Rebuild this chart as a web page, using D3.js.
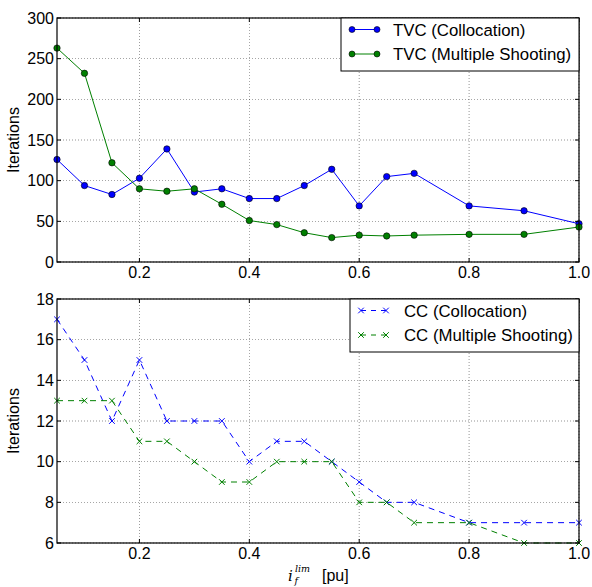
<!DOCTYPE html>
<html>
<head>
<meta charset="utf-8">
<script src="https://cdn.jsdelivr.net/npm/d3@7"></script>
<style>
  html, body { margin: 0; padding: 0; background: #fff; }
  svg { display: block; font-family: "Liberation Sans", Arial, sans-serif; }
</style>
</head>
<body>
<svg id="chart" width="592" height="587"></svg>
<script>
// Current limit values (pu)
const ifLim = [0.05, 0.1, 0.15, 0.2, 0.25, 0.3, 0.35, 0.4, 0.45, 0.5, 0.55, 0.6, 0.65, 0.7, 0.8, 0.9, 1.0];

// Iteration counts, TVC
const tvcCollocation = [126, 94, 83, 103, 139, 86, 90, 78, 78, 94, 114, 69, 105, 109, 69, 63, 47];
const tvcMultipleShooting = [263, 232, 122, 90, 87, 90, 71, 51, 46, 36, 30, 33, 32, 33, 34, 34, 43];

// Iteration counts, CC
const ccCollocation = [17, 15, 12, 15, 12, 12, 12, 10, 11, 11, 10, 9, 8, 8, 7, 7, 7];
const ccMultipleShooting = [13, 13, 13, 11, 11, 10, 9, 9, 10, 10, 10, 8, 8, 7, 7, 6, 6];

const xTicks = [0.2, 0.4, 0.6, 0.8, 1.0];
const yTicksTop = [0, 50, 100, 150, 200, 250, 300];
const yTicksBottom = [6, 8, 10, 12, 14, 16, 18];

const svg = d3.select("#chart");
const left = 57, right = 579;
const BLUE = "#0000ff", GREEN = "#008000";
const FS = 16;

const x = d3.scaleLinear().domain([0.05, 1.0]).range([left, right]);

function panel(top, bottom, yDomain, yTicks, series, legend) {
  const y = d3.scaleLinear().domain(yDomain).range([bottom, top]);
  const g = svg.append("g");

  // grid
  g.selectAll(".gx").data(xTicks).join("line")
    .attr("x1", d => x(d)).attr("x2", d => x(d))
    .attr("y1", top).attr("y2", bottom)
    .attr("stroke", "#000").attr("stroke-width", 0.6)
    .attr("stroke-dasharray", "1,2").attr("opacity", 0.7);
  g.selectAll(".gy").data(yTicks).join("line")
    .attr("x1", left).attr("x2", right)
    .attr("y1", d => y(d)).attr("y2", d => y(d))
    .attr("stroke", "#000").attr("stroke-width", 0.6)
    .attr("stroke-dasharray", "1,2").attr("opacity", 0.7);

  const clip = "clip" + top;
  svg.append("clipPath").attr("id", clip).append("rect")
    .attr("x", left - 6).attr("y", top - 6)
    .attr("width", right - left + 12).attr("height", bottom - top + 12);

  const plot = g.append("g").attr("clip-path", `url(#${clip})`);
  series.forEach(s => {
    const pts = ifLim.map((v, i) => [v, s.values[i]]);
    plot.append("path").datum(pts)
      .attr("fill", "none").attr("stroke", s.color).attr("stroke-width", 1)
      .attr("stroke-dasharray", s.dash ? "6,5" : null)
      .attr("d", d3.line().x(d => x(d[0])).y(d => y(d[1])));
    if (s.marker === "o") {
      plot.selectAll(null).data(pts).join("circle")
        .attr("cx", d => x(d[0])).attr("cy", d => y(d[1])).attr("r", 3.2)
        .attr("fill", s.color).attr("stroke", "#000").attr("stroke-width", 0.6);
    } else {
      plot.selectAll(null).data(pts).join("path")
        .attr("transform", d => `translate(${x(d[0])},${y(d[1])})`)
        .attr("d", "M-2.8,-2.8L2.8,2.8M-2.8,2.8L2.8,-2.8")
        .attr("stroke", s.color).attr("stroke-width", 1);
    }
  });

  // frame
  g.append("rect").attr("x", left).attr("y", top)
    .attr("width", right - left).attr("height", bottom - top)
    .attr("fill", "none").attr("stroke", "#000").attr("stroke-width", 1.2);

  // inward ticks on all four sides
  const tl = 4;
  xTicks.forEach(t => {
    g.append("line").attr("x1", x(t)).attr("x2", x(t)).attr("y1", bottom).attr("y2", bottom - tl).attr("stroke", "#000");
    g.append("line").attr("x1", x(t)).attr("x2", x(t)).attr("y1", top).attr("y2", top + tl).attr("stroke", "#000");
  });
  yTicks.forEach(t => {
    g.append("line").attr("x1", left).attr("x2", left + tl).attr("y1", y(t)).attr("y2", y(t)).attr("stroke", "#000");
    g.append("line").attr("x1", right).attr("x2", right - tl).attr("y1", y(t)).attr("y2", y(t)).attr("stroke", "#000");
  });

  // tick labels
  g.selectAll(".xl").data(xTicks).join("text")
    .attr("x", d => x(d)).attr("y", bottom + 16)
    .attr("text-anchor", "middle").attr("font-size", FS)
    .text(d => d3.format(".1f")(d));
  g.selectAll(".yl").data(yTicks).join("text")
    .attr("x", left - 3).attr("y", d => y(d)).attr("dy", "0.36em")
    .attr("text-anchor", "end").attr("font-size", FS)
    .text(d => d);

  // y label
  g.append("text")
    .attr("transform", `translate(19,${(top + bottom) / 2}) rotate(-90)`)
    .attr("text-anchor", "middle").attr("font-size", FS)
    .text("Iterations");

  // legend
  const lg = g.append("g");
  lg.append("rect").attr("x", legend.x).attr("y", top)
    .attr("width", right - legend.x).attr("height", legend.h)
    .attr("fill", "#fff").attr("stroke", "#000").attr("stroke-width", 1);
  series.forEach((s, i) => {
    const ly = top + 11.5 + i * 24.5;
    const x1 = legend.x + 11, x2 = legend.x + 36;
    lg.append("line").attr("x1", x1).attr("x2", x2).attr("y1", ly).attr("y2", ly)
      .attr("stroke", s.color).attr("stroke-width", 1)
      .attr("stroke-dasharray", s.dash ? "5,5" : null);
    [x1, x2].forEach(mx => {
      if (s.marker === "o") {
        lg.append("circle").attr("cx", mx).attr("cy", ly).attr("r", 3)
          .attr("fill", s.color).attr("stroke", "#000").attr("stroke-width", 0.6);
      } else {
        lg.append("path").attr("transform", `translate(${mx},${ly})`)
          .attr("d", "M-2.8,-2.8L2.8,2.8M-2.8,2.8L2.8,-2.8")
          .attr("stroke", s.color).attr("stroke-width", 1);
      }
    });
    lg.append("text").attr("x", legend.tx).attr("y", ly).attr("dy", "0.36em")
      .attr("font-size", 16.8).text(s.name);
  });
}

panel(18, 262, [0, 300], yTicksTop, [
  { name: "TVC (Collocation)", values: tvcCollocation, color: BLUE, marker: "o" },
  { name: "TVC (Multiple Shooting)", values: tvcMultipleShooting, color: GREEN, marker: "o" }
], { x: 341, h: 53, tx: 393 });

panel(299, 543, [6, 18], yTicksBottom, [
  { name: "CC (Collocation)", values: ccCollocation, color: BLUE, marker: "x", dash: true },
  { name: "CC (Multiple Shooting)", values: ccMultipleShooting, color: GREEN, marker: "x", dash: true }
], { x: 350, h: 53, tx: 404 });

// x axis label: i_f^lim [pu], one text element with positioned parts
const mathFont = "DejaVu Serif, serif";
const xl = svg.append("text").attr("font-size", FS);
xl.append("tspan").attr("x", 288).attr("y", 580.5)
  .attr("font-family", mathFont).attr("font-style", "italic").attr("font-size", 15).text("i");
xl.append("tspan").attr("x", 295).attr("y", 572)
  .attr("font-family", mathFont).attr("font-style", "italic").attr("font-size", 9.5).text("lim");
xl.append("tspan").attr("x", 294.5).attr("y", 584.3)
  .attr("font-family", mathFont).attr("font-style", "italic").attr("font-size", 9.5).text("f");
xl.append("tspan").attr("x", 322).attr("y", 581).text("[pu]");
</script>
</body>
</html>
